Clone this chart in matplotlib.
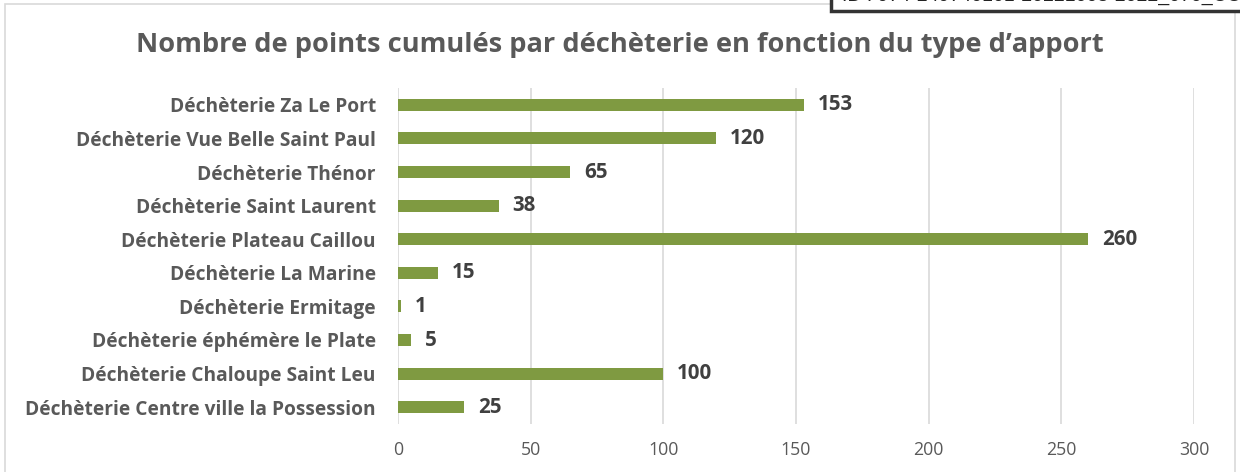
import matplotlib
matplotlib.use("Agg")
import matplotlib.pyplot as plt
from matplotlib.patches import Rectangle

categories = [
    "Déchèterie Za Le Port",
    "Déchèterie Vue Belle Saint Paul",
    "Déchèterie Thénor",
    "Déchèterie Saint Laurent",
    "Déchèterie Plateau Caillou",
    "Déchèterie La Marine",
    "Déchèterie Ermitage",
    "Déchèterie éphémère le Plate",
    "Déchèterie Chaloupe Saint Leu",
    "Déchèterie Centre ville la Possession",
]
values = [153, 120, 65, 38, 260, 15, 1, 5, 100, 25]
xticks = [0, 50, 100, 150, 200, 250, 300]
title = "Nombre de points cumulés par déchèterie en fonction du type d\u2019apport"
stamp = "ID : 974-249740101-20221003-2022_070_CC_"

plt.rcParams['font.family'] = ['Open Sans', 'DejaVu Sans']

W, H = 1240, 472
fig = plt.figure(figsize=(W / 100, H / 100), dpi=100)
fig.patch.set_facecolor("white")

ax = fig.add_axes([398 / W, 1 - 424 / H, (1194 - 398) / W, (424 - 88) / H])
ypos = list(range(len(categories)))[::-1]
ax.barh(ypos, values, height=0.36, color="#7f9a41", zorder=3)
ax.set_xlim(0, 300)
ax.set_ylim(-0.5, len(categories) - 0.5)
ax.set_yticks(ypos)
ax.set_yticklabels(categories, fontsize=13.8, fontweight="bold", color="#595959")
ax.set_xticks(xticks)
ax.set_xticklabels([str(t) for t in xticks], fontsize=12.8, color="#595959")
ax.tick_params(axis="both", length=0)
ax.tick_params(axis="y", pad=16)
ax.tick_params(axis="x", pad=12)
for s in ax.spines.values():
    s.set_visible(False)
ax.grid(axis="x", color="#d9d9d9", linewidth=1.2, zorder=0)
ax.set_axisbelow(True)

for y, v in zip(ypos, values):
    ax.annotate(str(v), xy=(v, y), xytext=(10, 0), textcoords="offset points",
                va="center", ha="left", fontsize=14.8, fontweight="bold", color="#404040")

fig.text(0.5, 1 - 45 / H, title, ha="center", va="center", fontsize=19.6,
         fontweight="bold", color="#595959")

# chart border
fig.patches.append(Rectangle((5 / W, -0.05), (1235 - 5) / W, 1 - 4 / H + 0.05,
                             transform=fig.transFigure, fill=False,
                             edgecolor="#d9d9d9", linewidth=1.2, zorder=1))
# stamp box
fig.patches.append(Rectangle((831 / W, 1 - 11 / H), 0.5, 0.2,
                             transform=fig.transFigure, facecolor="white",
                             edgecolor="#333333", linewidth=2.5, zorder=5))
fig.text(842 / W, 1 - 5 / H, stamp, ha="left", va="bottom", fontsize=14,
         color="#222222", family=["Liberation Sans", "DejaVu Sans"], zorder=6)

fig.savefig("out.png", dpi=100)
